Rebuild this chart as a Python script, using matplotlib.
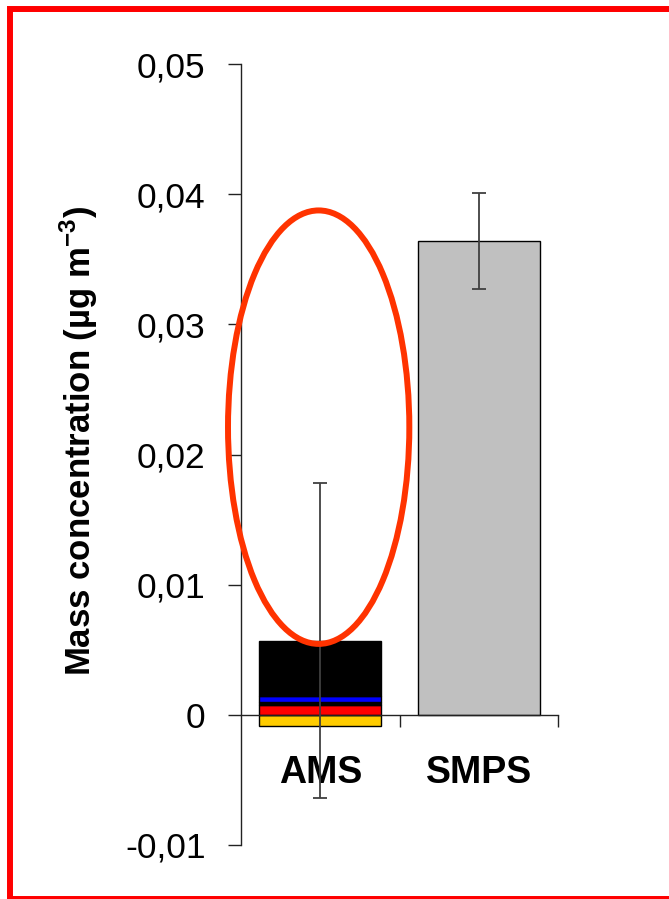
import numpy as np
import matplotlib.pyplot as plt
from matplotlib.patches import Ellipse, Rectangle
from matplotlib.ticker import FixedLocator

plt.rcParams['font.family'] = ['Liberation Sans', 'DejaVu Sans']
plt.rcParams['mathtext.fontset'] = 'custom'
plt.rcParams['mathtext.rm'] = 'Liberation Sans:bold'
plt.rcParams['mathtext.bf'] = 'Liberation Sans:bold'

# --- Data ---
instruments = ['AMS', 'SMPS']
ams_species = ['Ammonium', 'Sulphate', 'Chloride', 'Nitrate', 'Organics']
ams_values = [-0.00085, 0.00078, 0.00018, 0.00048, 0.00427]
ams_colors = ['#ffcc00', '#ff0000', '#000000', '#0000ff', '#000000']
ams_err = 0.0121
smps_value = 0.0364
smps_err = 0.0037
y_ticks = [-0.01, 0, 0.01, 0.02, 0.03, 0.04, 0.05]
y_tick_labels = ['-0,01', '0', '0,01', '0,02', '0,03', '0,04', '0,05']

W, H = 669, 899
fig = plt.figure(figsize=(W / 100, H / 100), dpi=100, facecolor='white')
ax = fig.add_axes([241 / W, 1 - 845 / H, 317 / W, 781 / H])

bar_w = 0.77
x = np.arange(len(instruments))

# AMS stacked bar (positive parts stacked upward, negative part downward)
bottom = 0.0
for val, col in zip(ams_values, ams_colors):
    if val < 0:
        ax.bar(x[0], val, bar_w, bottom=0, color=col, edgecolor='black', linewidth=1.0, zorder=2)
    else:
        ax.bar(x[0], val, bar_w, bottom=bottom, color=col, edgecolor='black', linewidth=1.0, zorder=2)
        bottom += val
ams_total = bottom

ax.bar(x[1], smps_value, bar_w, color='#c0c0c0', edgecolor='black', linewidth=1.0, zorder=2)

ax.errorbar(x, [ams_total, smps_value], yerr=[ams_err, smps_err], fmt='none',
            ecolor='#404040', elinewidth=1.3, capsize=5, capthick=1.3, zorder=4)

ax.set_xlim(-0.5, 1.5)
ax.set_ylim(-0.01, 0.05)

for side in ['top', 'right']:
    ax.spines[side].set_visible(False)
ax.spines['bottom'].set_position(('data', 0))
ax.spines['left'].set_linewidth(1.0)
ax.spines['bottom'].set_linewidth(1.0)
ax.spines['left'].set_color('#222222')
ax.spines['bottom'].set_color('#222222')

ax.yaxis.set_major_locator(FixedLocator(y_ticks))
ax.set_yticklabels(y_tick_labels, fontsize=25.5)
ax.tick_params(axis='y', direction='out', length=9.4, width=1.0, color='#222222', pad=16)

ax.set_xticks(x)
ax.set_xticklabels(instruments, fontsize=27, fontweight='bold')
ax.tick_params(axis='x', which='major', length=0, pad=29)
ax.xaxis.set_minor_locator(FixedLocator([0.5, 1.5]))
ax.tick_params(axis='x', which='minor', direction='out', length=8.6, width=1.0, color='#222222')

fig.text(79 / W, 1 - 441 / H, r'Mass concentration (µg m$^{\mathbf{-3}}$)',
         rotation=90, ha='center', va='center', fontsize=25, fontweight='bold')

# highlight ellipse around the AMS error bar
ax.add_patch(Ellipse((-0.01, 0.0221), 1.144, 0.0333, fill=False,
                     edgecolor='#ff3300', linewidth=4.3, zorder=5, clip_on=False))

# red frame around the figure
fig.patches.append(Rectangle((10 / W, 0.5 / H), 1.02, 1 - 9.5 / H, transform=fig.transFigure,
                             fill=False, edgecolor='#ff0000', linewidth=4.3, clip_on=False))

plt.savefig('out.png', dpi=100)
